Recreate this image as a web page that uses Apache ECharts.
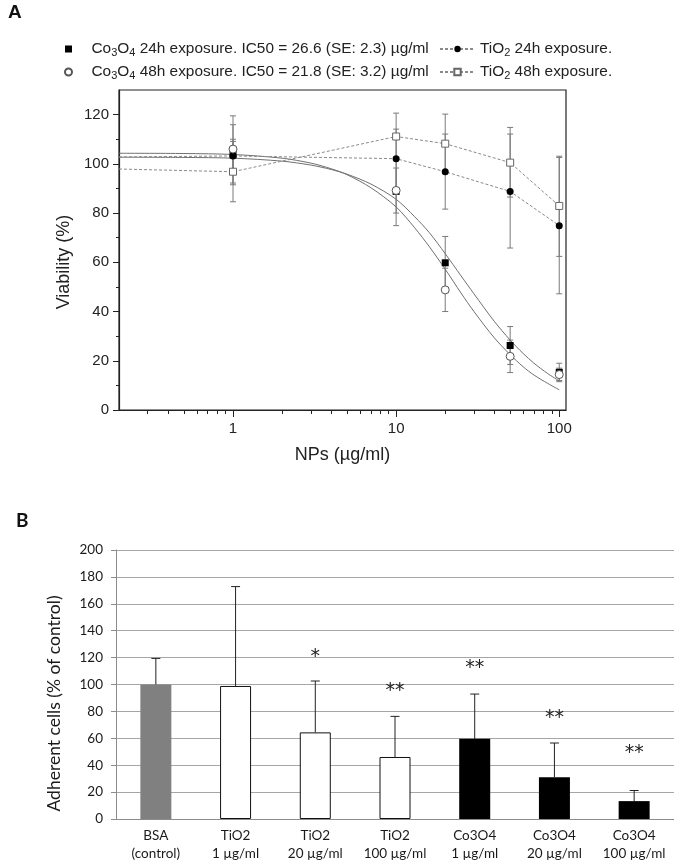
<!DOCTYPE html>
<html><head><meta charset="utf-8">
<script src="https://cdn.jsdelivr.net/npm/echarts@6/dist/echarts.min.js"></script>
<style>html,body{margin:0;padding:0;background:#fff}#c{width:674px;height:863px}</style>
</head><body><div id="c"></div>
<script>
// ---------- Panel A data ----------
const conc = [1, 10, 20, 50, 100];
const co24 = [103.7, 88.8, 59.8, 26.2, 15.3];
const co24Lo = [91.5, 74.9, 49.1, 18.5, 11.5];
const co24Hi = [115.9, 102.7, 70.5, 33.9, 19.0];
const co48 = [106.0, 89.2, 48.8, 21.8, 14.4];
const co48Lo = [92.2, 80.0, 40.0, 15.2, 12.0];
const co48Hi = [119.5, 98.3, 57.6, 28.4, 17.0];
const tiConc = [0.2, 1, 10, 20, 50, 100];
const ti24 = [102.8, 103.2, 102.1, 96.8, 88.8, 74.9];
const ti24Lo = [null, 96.0, 90.0, 81.6, 65.8, 47.2];
const ti24Hi = [null, 110.0, 114.1, 112.1, 112.1, 102.6];
const ti48 = [97.9, 96.8, 111.1, 108.2, 100.5, 82.9];
const ti48Lo = [null, 84.6, 101.6, 96.2, 86.5, 62.4];
const ti48Hi = [null, 109.1, 120.6, 120.2, 114.8, 103.1];
const fitConc = [0.2, 0.5, 1, 2, 3, 4, 5, 7, 10, 13, 16, 20, 25, 30, 40, 50, 60, 70, 85, 100];
const fit24 = [102.7, 102.6, 102.3, 101.1, 99.5, 97.7, 95.8, 91.8, 85.6, 78.5, 72.0, 63.5, 54.5, 47.2, 36.0, 28.4, 23.0, 19.0, 14.8, 11.8];
const fit48 = [104.3, 104.2, 103.8, 102.3, 100.3, 98.0, 95.6, 90.3, 82.5, 74.0, 66.3, 57.2, 47.5, 40.0, 29.3, 22.5, 17.6, 14.2, 10.8, 8.2];
const xMajorTicks = [1, 10, 100];
const xMinorTicks = [0.3, 0.4, 0.5, 0.6, 0.7, 0.8, 0.9, 2, 3, 4, 5, 6, 7, 8, 9, 20, 30, 40, 50, 60, 70, 80, 90];
const yMajorTicks = [0, 20, 40, 60, 80, 100, 120];
const yMinorTicks = [10, 30, 50, 70, 90, 110];
const nameCo24 = 'Co3O4 24h exposure. IC50 = 26.6 (SE: 2.3) µg/ml';
const nameCo48 = 'Co3O4 48h exposure. IC50 = 21.8 (SE: 3.2) µg/ml';
const nameTi24 = 'TiO2 24h exposure.';
const nameTi48 = 'TiO2 48h exposure.';

// ---------- Panel B data ----------
const bCats = ['BSA\n(control)', 'TiO2\n1 µg/ml', 'TiO2\n20 µg/ml', 'TiO2\n100 µg/ml', 'Co3O4\n1 µg/ml', 'Co3O4\n20 µg/ml', 'Co3O4\n100 µg/ml'];
const bVals = [100, 98.9, 64.4, 46.1, 59.6, 31.1, 13.3];
const bErrHi = [119.4, 172.8, 102.6, 76.3, 92.9, 56.5, 21.2];
const bGroup = ['BSA', 'TiO2', 'TiO2', 'TiO2', 'Co3O4', 'Co3O4', 'Co3O4'];
const bStars = ['', '', '*', '**', '**', '**', '**'];
const bStarY = [null, null, 124, 99, 116, 79, 53];

const FA = 'Liberation Sans, Arial, sans-serif';
const FB = 'Lato, Open Sans, sans-serif';
const groupStyle = {
  BSA: {color: '#808080', borderColor: '#808080', borderWidth: 0},
  TiO2: {color: '#ffffff', borderColor: '#111', borderWidth: 1},
  Co3O4: {color: '#000000', borderColor: '#000', borderWidth: 0}
};

function errRows(xs, lo, hi) {
  const r = [];
  xs.forEach((x, i) => { if (lo[i] != null) r.push([x, lo[i], hi[i]]); });
  return r;
}
const errAData = [].concat(
  errRows(tiConc, ti24Lo, ti24Hi), errRows(tiConc, ti48Lo, ti48Hi),
  errRows(conc, co24Lo, co24Hi), errRows(conc, co48Lo, co48Hi));

function renderErrA(params, api) {
  const x = api.value(0);
  const a = api.coord([x, api.value(1)]), b = api.coord([x, api.value(2)]);
  const w = 3, st = {stroke: '#7a7a7a', lineWidth: 1};
  return {type: 'group', children: [
    {type: 'line', shape: {x1: a[0], y1: a[1], x2: b[0], y2: b[1]}, style: st},
    {type: 'line', shape: {x1: a[0] - w, y1: a[1], x2: a[0] + w, y2: a[1]}, style: st},
    {type: 'line', shape: {x1: b[0] - w, y1: b[1], x2: b[0] + w, y2: b[1]}, style: st}
  ]};
}
function renderErrB(params, api) {
  const i = api.value(0);
  const a = api.coord([i, api.value(1)]), b = api.coord([i, api.value(2)]);
  const w = 4.5, st = {stroke: '#222', lineWidth: 1};
  return {type: 'group', children: [
    {type: 'line', shape: {x1: a[0], y1: a[1], x2: b[0], y2: b[1]}, style: st},
    {type: 'line', shape: {x1: b[0] - w, y1: b[1], x2: b[0] + w, y2: b[1]}, style: st}
  ]};
}
function renderStar(params, api) {
  const i = api.value(0);
  const p = api.coord([i, api.value(1)]);
  return {type: 'text', x: p[0], y: p[1] + 5, style: {text: bStars[i], fontSize: 19, fontFamily: 'DejaVu Sans', fill: '#222', align: 'center', verticalAlign: 'middle'}};
}

function legendFmt(name) {
  return name.replace('Co3O4', 'Co{s|3}O{s|4}').replace('TiO2', 'TiO{s|2}');
}
const legendText = {fontFamily: FA, fontSize: 15.4, color: '#222', lineHeight: 22,
  rich: {s: {fontFamily: FA, fontSize: 11, color: '#222', padding: [8, 0, 0, 0]}}};

const option = {
  animation: false,
  backgroundColor: '#fff',
  title: [
    {text: 'A', left: 3, top: -2, textStyle: {fontFamily: 'Liberation Sans Narrow, Liberation Sans', fontWeight: 'bold', fontSize: 19, color: '#111'}},
    {text: 'B', left: 11, top: 506, textStyle: {fontFamily: FB, fontWeight: 'bold', fontSize: 19, color: '#111'}}
  ],
  legend: [
    {data: [{name: nameCo24, icon: 'path://M0 0H10V10H0Z'}, {name: nameCo48, icon: 'path://M10 5A5 5 0 1 1 0 5A5 5 0 1 1 10 5Z'}],
     orient: 'vertical', left: 59, top: 33, itemWidth: 36, itemHeight: 7, itemGap: 1,
     formatter: legendFmt, textStyle: legendText, selectedMode: false},
    {data: [nameTi24, nameTi48], orient: 'vertical', left: 434, top: 33, itemWidth: 35, itemHeight: 8, itemGap: 1,
     formatter: legendFmt, textStyle: legendText, selectedMode: false}
  ],
  grid: [
    {left: 119, top: 90, width: 447, height: 320, show: true, borderColor: '#222', borderWidth: 1.2, backgroundColor: 'transparent'},
    {left: 116, top: 550, right: 0, height: 276}
  ],
  xAxis: [
    {gridIndex: 0, type: 'log', min: 0.2, max: 110,
     axisLine: {onZero: false, lineStyle: {color: '#222', width: 1.2}},
     axisTick: {customValues: xMajorTicks, length: 7, lineStyle: {color: '#222'}},
     axisLabel: {customValues: xMajorTicks, fontFamily: FA, fontSize: 15, color: '#222', margin: 11},
     splitLine: {show: false},
     name: 'NPs (µg/ml)', nameLocation: 'middle', nameGap: 36,
     nameTextStyle: {fontFamily: FA, fontSize: 18, color: '#222'}},
    {gridIndex: 0, type: 'log', min: 0.2, max: 110, position: 'bottom',
     axisLine: {show: false}, axisLabel: {show: false}, splitLine: {show: false},
     axisTick: {customValues: xMinorTicks, length: 4, lineStyle: {color: '#222'}}},
    {gridIndex: 1, type: 'category', data: bCats,
     axisLine: {lineStyle: {color: '#8c8c8c'}},
     axisTick: {length: 5, lineStyle: {color: '#8c8c8c'}},
     axisLabel: {interval: 0, fontFamily: FB, fontSize: 13.5, lineHeight: 18, color: '#1a1a1a', margin: 8}}
  ],
  yAxis: [
    {gridIndex: 0, type: 'value', min: 0, max: 130,
     axisLine: {show: true, lineStyle: {color: '#222', width: 1.2}},
     axisTick: {customValues: yMajorTicks, length: 6, lineStyle: {color: '#222'}},
     axisLabel: {customValues: yMajorTicks, fontFamily: FA, fontSize: 15, color: '#222', margin: 10},
     splitLine: {show: false},
     name: 'Viability (%)', nameLocation: 'middle', nameGap: 43,
     nameTextStyle: {fontFamily: FA, fontSize: 18, color: '#222', padding: [0, 24, 0, 0]}},
    {gridIndex: 0, type: 'value', min: 0, max: 130, position: 'left',
     axisLine: {show: false}, axisLabel: {show: false}, splitLine: {show: false},
     axisTick: {customValues: yMinorTicks, length: 3, lineStyle: {color: '#222'}}},
    {gridIndex: 1, type: 'value', min: 0, max: 200, interval: 20,
     axisLine: {show: true, lineStyle: {color: '#8c8c8c'}},
     axisTick: {show: true, length: 5, lineStyle: {color: '#8c8c8c'}},
     axisLabel: {fontFamily: FB, fontSize: 13.5, color: '#1a1a1a', margin: 13},
     splitLine: {lineStyle: {color: '#a6a6a6', width: 1}},
     name: 'Adherent cells (% of control)', nameLocation: 'middle', nameGap: 53,
     nameTextStyle: {fontFamily: FB, fontSize: 17.5, color: '#1a1a1a', padding: [0, 38, 0, 0]}}
  ],
  series: [
    {type: 'custom', name: 'errA', xAxisIndex: 0, yAxisIndex: 0, renderItem: renderErrA, data: errAData, z: 2, silent: true},
    {type: 'line', name: 'fit24', xAxisIndex: 0, yAxisIndex: 0, data: fitConc.map((x, i) => [x, fit24[i]]),
     symbol: 'none', smooth: 0.3, lineStyle: {color: '#707070', width: 1}, z: 3},
    {type: 'line', name: 'fit48', xAxisIndex: 0, yAxisIndex: 0, data: fitConc.map((x, i) => [x, fit48[i]]),
     symbol: 'none', smooth: 0.3, lineStyle: {color: '#707070', width: 1}, z: 3},
    {type: 'line', name: nameTi24, xAxisIndex: 0, yAxisIndex: 0,
     data: tiConc.map((x, i) => i === 0 ? {value: [x, ti24[i]], symbol: 'none'} : [x, ti24[i]]),
     symbol: 'circle', symbolSize: 7, lineStyle: {color: '#8a8a8a', width: 1, type: [3, 2]},
     itemStyle: {color: '#000', borderColor: '#000', borderWidth: 0}, z: 4},
    {type: 'line', name: nameTi48, xAxisIndex: 0, yAxisIndex: 0,
     data: tiConc.map((x, i) => i === 0 ? {value: [x, ti48[i]], symbol: 'none'} : [x, ti48[i]]),
     symbol: 'rect', symbolSize: 7, lineStyle: {color: '#8a8a8a', width: 1, type: [3, 2]},
     itemStyle: {color: '#fff', borderColor: '#666', borderWidth: 1}, z: 4},
    {type: 'scatter', name: nameCo24, xAxisIndex: 0, yAxisIndex: 0, data: conc.map((x, i) => [x, co24[i]]),
     symbol: 'rect', symbolSize: 7, itemStyle: {color: '#000', opacity: 1}, z: 5},
    {type: 'scatter', name: nameCo48, xAxisIndex: 0, yAxisIndex: 0, data: conc.map((x, i) => [x, co48[i]]),
     symbol: 'circle', symbolSize: 8, itemStyle: {color: '#fff', borderColor: '#555', borderWidth: 1, opacity: 1}, z: 6},
    // Panel B
    {type: 'bar', name: 'bars', xAxisIndex: 2, yAxisIndex: 2, barWidth: 31,
     data: bVals.map((v, i) => ({value: v, itemStyle: groupStyle[bGroup[i]]})), z: 2},
    {type: 'custom', name: 'errB', xAxisIndex: 2, yAxisIndex: 2, renderItem: renderErrB,
     data: bVals.map((v, i) => [i, v, bErrHi[i]]), z: 3, silent: true},
    {type: 'custom', name: 'stars', xAxisIndex: 2, yAxisIndex: 2, renderItem: renderStar,
     data: bStarY.map((y, i) => [i, y]).filter(d => d[1] != null), z: 4, silent: true}
  ]
};
const chart = echarts.init(document.getElementById('c'), null, {renderer: 'canvas'});
chart.setOption(option);
</script>
</body></html>
